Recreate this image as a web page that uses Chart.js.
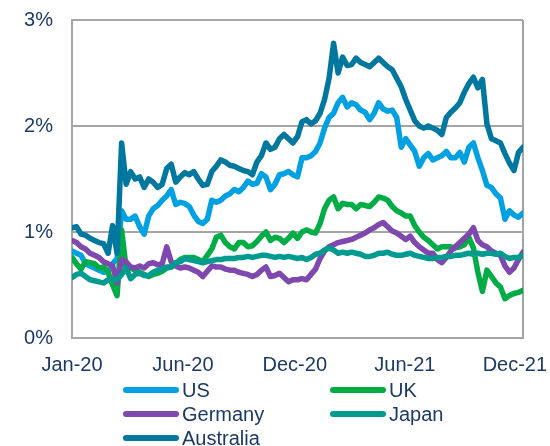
<!DOCTYPE html>
<html>
<head>
<meta charset="utf-8">
<script src="https://cdn.jsdelivr.net/npm/chart.js@4.4.1/dist/chart.umd.min.js"></script>
<style>
  html, body { margin: 0; padding: 0; background: #ffffff; }
  #wrap { position: relative; width: 550px; height: 446px; overflow: hidden; }
  #chart { position: absolute; left: 0; top: 0; }
  .lg { position: absolute; height: 24px; font-family: "Liberation Sans", Arial, sans-serif; font-size: 20px; color: #1B3A66; white-space: nowrap; }
  .lg .sw { position: absolute; left: 0; top: 9px; width: 56px; height: 6px; border-radius: 3px; }
  .lg .tx { position: absolute; left: 59px; top: 0; line-height: 24px; }
</style>
</head>
<body>
<div id="wrap">
  <canvas id="chart" width="550" height="446"></canvas>
  <div id="legend"></div>
</div>
<script>
// ---- Data (percent) ----
const tickLabels = ['Jan-20', 'Jun-20', 'Dec-20', 'Jun-21', 'Dec-21'];
const tickPositions = [0, 24.6, 49.4, 73.8, 98.2];
const seriesNames = ['US', 'UK', 'Germany', 'Japan', 'Australia'];

const us = [0.82,0.80,0.78,0.70,0.68,0.66,0.64,0.62,0.63,0.70,0.75,1.20,1.12,1.12,1.15,1.05,0.98,1.15,1.22,1.25,
  1.30,1.34,1.40,1.26,1.28,1.27,1.24,1.16,1.10,1.08,1.12,1.30,1.28,1.30,1.34,1.36,1.40,1.38,1.42,1.48,
  1.45,1.46,1.55,1.52,1.40,1.45,1.54,1.55,1.57,1.54,1.52,1.70,1.70,1.72,1.76,1.84,1.98,2.08,2.12,2.22,
  2.27,2.18,2.22,2.20,2.15,2.13,2.06,2.12,2.22,2.16,2.14,2.15,2.08,1.80,1.88,1.82,1.76,1.62,1.70,1.74,
  1.68,1.70,1.72,1.76,1.70,1.70,1.75,1.66,1.80,1.84,1.70,1.58,1.44,1.42,1.36,1.32,1.12,1.20,1.16,1.14,1.18];

const uk = [0.76,0.70,0.65,0.72,0.71,0.70,0.66,0.67,0.62,0.50,0.40,1.02,0.66,0.66,0.64,0.62,0.60,0.58,0.60,0.61,
  0.63,0.66,0.67,0.70,0.74,0.76,0.76,0.76,0.74,0.72,0.78,0.84,0.95,0.97,0.90,0.86,0.84,0.90,0.90,0.86,
  0.87,0.91,0.96,1.00,0.92,0.95,0.94,0.90,0.94,0.99,0.94,1.00,1.02,1.00,0.99,1.08,1.22,1.30,1.33,1.22,
  1.27,1.26,1.26,1.22,1.26,1.25,1.24,1.28,1.33,1.32,1.30,1.24,1.20,1.18,1.15,1.15,1.06,1.00,0.95,0.92,
  0.88,0.84,0.86,0.86,0.86,0.85,0.86,0.88,0.95,0.85,0.62,0.44,0.64,0.58,0.52,0.48,0.37,0.40,0.42,0.43,0.45];

const germany = [0.92,0.90,0.86,0.84,0.80,0.78,0.76,0.72,0.70,0.68,0.52,0.74,0.72,0.67,0.66,0.68,0.66,0.70,0.71,0.69,
  0.70,0.86,0.72,0.68,0.66,0.67,0.66,0.64,0.62,0.58,0.63,0.68,0.67,0.67,0.65,0.64,0.64,0.62,0.61,0.60,
  0.58,0.60,0.64,0.67,0.58,0.59,0.61,0.57,0.53,0.55,0.55,0.56,0.55,0.60,0.65,0.75,0.82,0.86,0.88,0.90,
  0.91,0.92,0.93,0.95,0.97,0.99,1.02,1.04,1.07,1.09,1.05,1.01,0.99,0.96,0.93,0.96,0.90,0.86,0.83,0.80,
  0.80,0.74,0.71,0.76,0.82,0.86,0.90,0.94,0.98,1.04,0.92,0.88,0.86,0.82,0.80,0.78,0.68,0.62,0.66,0.74,0.81];

const japan = [0.57,0.60,0.61,0.58,0.55,0.54,0.53,0.52,0.55,0.56,0.55,0.60,0.66,0.56,0.60,0.61,0.59,0.59,0.62,0.64,
  0.65,0.67,0.67,0.71,0.72,0.75,0.74,0.73,0.72,0.71,0.72,0.73,0.74,0.74,0.75,0.75,0.75,0.76,0.76,0.77,
  0.76,0.77,0.78,0.78,0.77,0.76,0.77,0.76,0.77,0.76,0.75,0.76,0.74,0.76,0.79,0.80,0.83,0.85,0.83,0.80,
  0.81,0.80,0.81,0.80,0.79,0.77,0.77,0.78,0.80,0.80,0.81,0.79,0.78,0.78,0.79,0.80,0.78,0.77,0.76,0.75,
  0.75,0.76,0.76,0.77,0.77,0.78,0.78,0.79,0.80,0.79,0.80,0.79,0.80,0.80,0.79,0.80,0.77,0.75,0.76,0.76,0.78];

const australia = [1.04,1.05,0.98,0.97,0.94,0.92,0.90,0.89,0.80,1.06,0.80,1.84,1.45,1.57,1.50,1.52,1.42,1.50,1.47,1.42,
  1.45,1.60,1.64,1.47,1.52,1.56,1.54,1.57,1.50,1.44,1.45,1.57,1.62,1.68,1.66,1.63,1.62,1.60,1.58,1.57,
  1.54,1.66,1.72,1.84,1.78,1.80,1.88,1.92,1.88,1.84,1.90,2.04,2.06,2.02,2.05,2.12,2.25,2.45,2.78,2.50,
  2.65,2.57,2.58,2.64,2.60,2.58,2.56,2.60,2.64,2.60,2.56,2.53,2.45,2.37,2.25,2.15,2.05,2.00,1.98,2.00,
  1.98,1.96,1.92,2.08,2.13,2.17,2.22,2.32,2.40,2.46,2.36,2.44,2.02,1.88,1.86,1.84,1.74,1.65,1.58,1.75,1.80];

// ---- Styles ----
const TEXT = '#1B3A66';
const GRID = '#A5A5A5';
const colors = ['#00A1E2', '#00AC45', '#7E48AF', '#009B8F', '#00779F'];
const drawOrder = [5, 4, 3, 2, 1]; // lower = on top
const FONT = '"Liberation Sans", Arial, sans-serif';

const seriesData = [us, uk, germany, japan, australia];
const xIndex = us.map((_, i) => i);

const frame = {
  id: 'frame',
  beforeDatasetsDraw(chart) {
    const a = chart.chartArea, ctx = chart.ctx;
    ctx.save();
    ctx.strokeStyle = GRID;
    ctx.lineWidth = 2;
    ctx.beginPath();
    ctx.moveTo(a.right, a.top);
    ctx.lineTo(a.right, a.bottom);
    ctx.stroke();
    ctx.restore();
  }
};

new Chart(document.getElementById('chart'), {
  type: 'line',
  data: {
    labels: xIndex,
    datasets: seriesNames.map((name, k) => ({
      label: name,
      data: seriesData[k],
      borderColor: colors[k],
      backgroundColor: colors[k],
      borderWidth: 5.5,
      pointRadius: 0,
      tension: 0,
      borderJoinStyle: 'round',
      borderCapStyle: 'round',
      order: drawOrder[k]
    }))
  },
  options: {
    responsive: false,
    animation: false,
    events: [],
    layout: { padding: { top: 20, right: 27, bottom: 68, left: 0 } },
    plugins: { legend: { display: false }, tooltip: { enabled: false }, title: { display: false } },
    scales: {
      x: {
        type: 'linear',
        min: 0,
        max: 100,
        afterBuildTicks: (axis) => { axis.ticks = tickPositions.map(v => ({ value: v })); },
        afterFit: (scale) => { scale.height = 40; scale.paddingLeft = 0; scale.paddingRight = 0; },
        grid: { display: false, drawTicks: false },
        border: { display: true, color: GRID, width: 2 },
        ticks: {
          autoSkip: false,
          maxRotation: 0,
          padding: 15,
          color: TEXT,
          font: { family: FONT, size: 20 },
          callback: (v) => { const i = tickPositions.indexOf(v); return i >= 0 ? tickLabels[i] : ''; }
        }
      },
      y: {
        min: 0,
        max: 3,
        afterFit: (scale) => { scale.width = 72; scale.paddingTop = 0; scale.paddingBottom = 0; },
        grid: { color: GRID, lineWidth: 2, drawTicks: false },
        border: { display: true, color: GRID, width: 2 },
        ticks: {
          stepSize: 1,
          padding: 19,
          color: TEXT,
          font: { family: FONT, size: 20 },
          callback: (v) => v + '%'
        }
      }
    }
  },
  plugins: [frame]
});

// ---- HTML legend (two columns) ----
const legendSlots = [[123, 378], [330, 378], [123, 402], [330, 402], [123, 426]];
const legendEl = document.getElementById('legend');
seriesNames.forEach((name, k) => {
  const item = document.createElement('div');
  item.className = 'lg';
  item.style.left = legendSlots[k][0] + 'px';
  item.style.top = legendSlots[k][1] + 'px';
  const sw = document.createElement('span');
  sw.className = 'sw';
  sw.style.background = colors[k];
  const tx = document.createElement('span');
  tx.className = 'tx';
  tx.textContent = name;
  item.appendChild(sw);
  item.appendChild(tx);
  legendEl.appendChild(item);
});
</script>
</body>
</html>
